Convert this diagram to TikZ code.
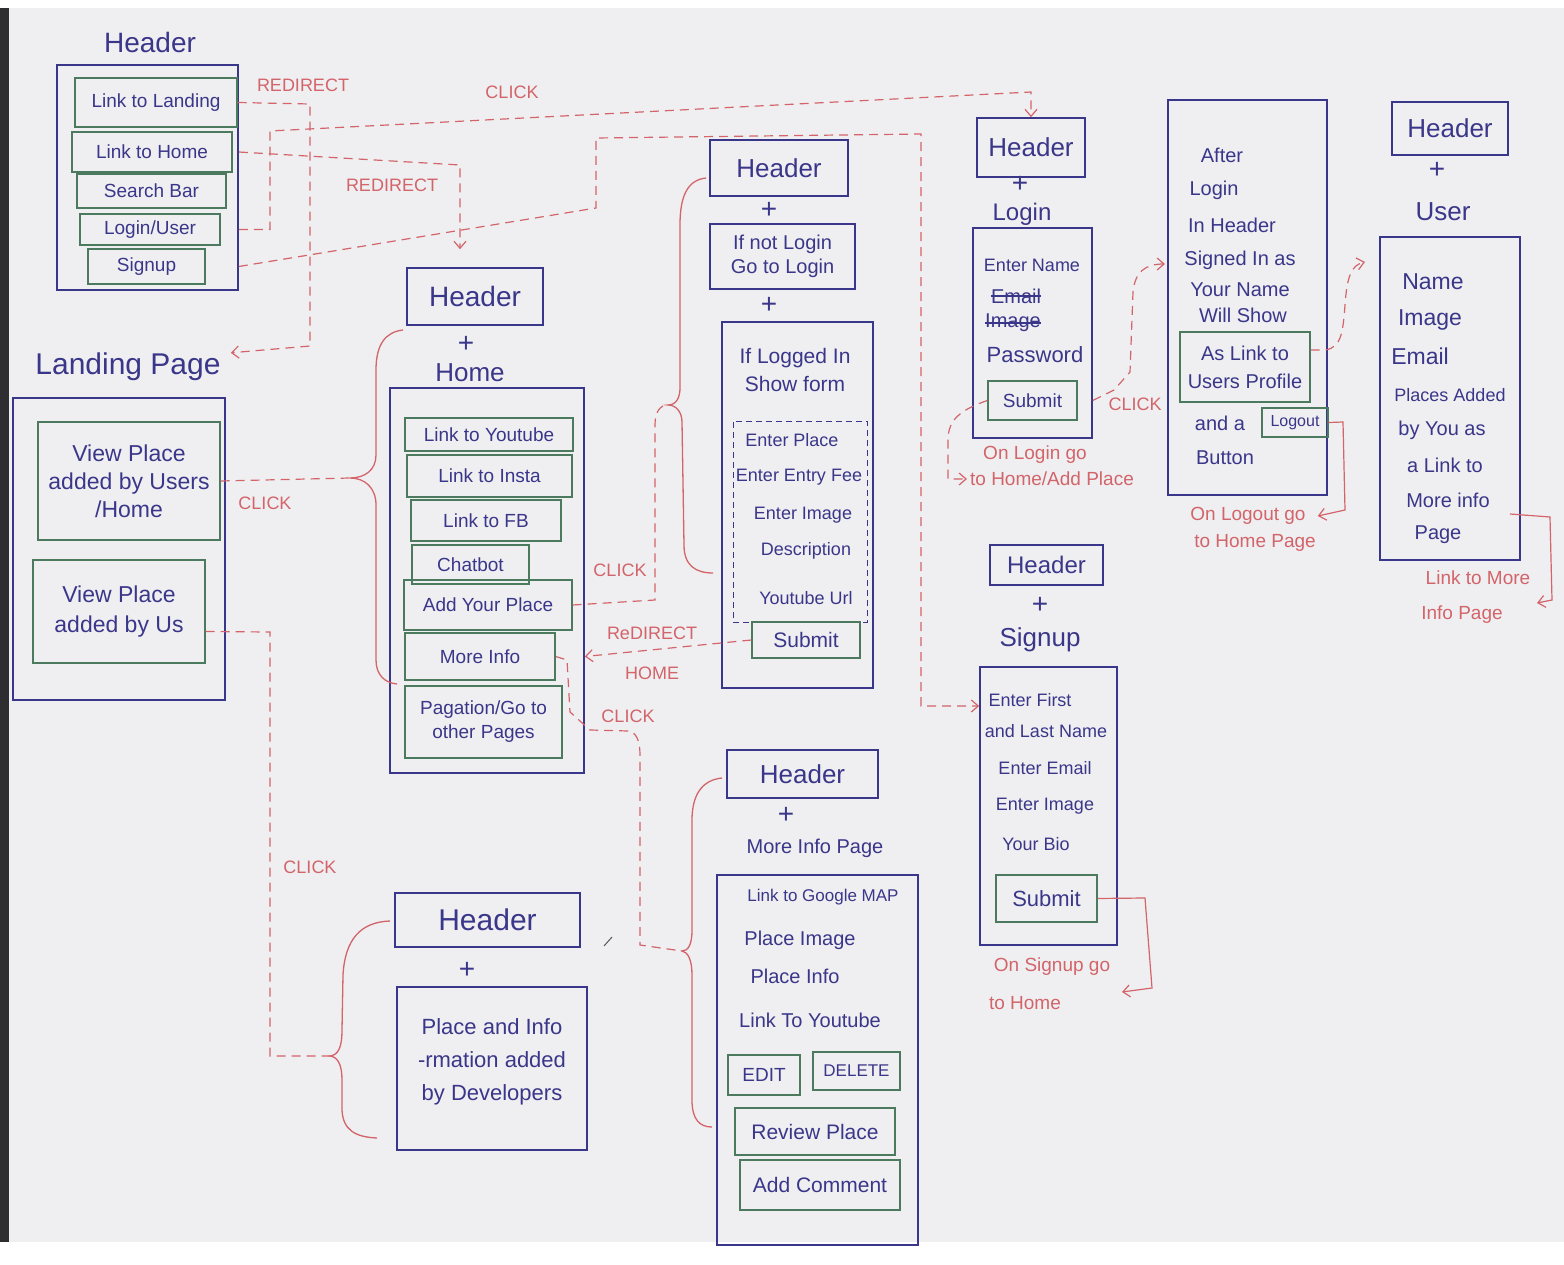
\documentclass[tikz,border=0pt]{standalone}
\usepackage{fontspec}
\setmainfont{Liberation Sans}
\usetikzlibrary{arrows.meta}
\definecolor{paper}{HTML}{EFEFF1}
\definecolor{inkblue}{HTML}{3A3689}
\definecolor{inkgreen}{HTML}{4B7A5E}
\definecolor{inkred}{HTML}{D2646A}
\definecolor{edgedark}{HTML}{2E2E30}
\begin{document}
\begin{tikzpicture}[x=1pt,y=-1pt,
  obox/.style={draw=inkblue,line width=1.6pt,inner sep=0pt},
  hbox/.style={draw=inkblue,line width=1.6pt,text=inkblue,font=\fontsize{26}{28}\selectfont,inner sep=0pt,align=center},
  gbox/.style={draw=inkgreen,line width=1.4pt,text=inkblue,font=\fontsize{19}{21}\selectfont,inner sep=0pt,align=center},
  btxt/.style={text=inkblue,font=\fontsize{20}{22}\selectfont,inner sep=0pt,align=center},
  ttl/.style={text=inkblue,font=\fontsize{26}{28}\selectfont,inner sep=0pt},
  plussign/.style={text=inkblue,font=\fontsize{28}{28}\selectfont,inner sep=0pt},
  rtxt/.style={text=inkred,font=\fontsize{19}{21}\selectfont,inner sep=0pt},
  rlbl/.style={text=inkred,font=\fontsize{18}{20}\selectfont,inner sep=0pt},
  rdash/.style={draw=inkred,line width=1.2pt,dash pattern=on 9pt off 6pt},
  rsolid/.style={draw=inkred,line width=1.2pt},
  bracecurve/.style={draw=inkred,line width=1.3pt},
  tipend/.style={-{Straight Barb[length=7pt,width=12pt]}},
  strike/.style={draw=inkblue,line width=1.2pt},
]
% paper
\fill[white] (0,0) rectangle (1564,1265);
\fill[paper] (9,8) rectangle (1564,1242);
\fill[edgedark] (0,8) rectangle (9,1242);
\useasboundingbox (0,0) rectangle (1564,1265);

% ---------- top-left header ----------
\node[ttl,font=\fontsize{28}{30}\selectfont] (hdrtitle) at (150,42) {Header};
\node[obox,minimum width=181,minimum height=225] (hdrbox) at (147.5,177.5) {};
\node[gbox,minimum width=162,minimum height=49] (lland) at (156,102.5) {Link to Landing};
\node[gbox,minimum width=160,minimum height=40] (lhome) at (152,152) {Link to Home};
\node[gbox,minimum width=149,minimum height=34] (lsearch) at (151.5,191) {Search Bar};
\node[gbox,minimum width=140,minimum height=31] (llogin) at (150,229.5) {Login/User};
\node[gbox,minimum width=117,minimum height=35] (lsignup) at (146.5,266.5) {Signup};

% ---------- landing page ----------
\node[ttl,font=\fontsize{30}{32}\selectfont] (landtitle) at (128,367) {Landing Page};
\node[obox,minimum width=212,minimum height=302] (landbox) at (119,549) {};
\node[gbox,minimum width=182,minimum height=118,font=\fontsize{23}{28}\selectfont] (vpusers) at (129,481) {View Place\\added by Users\\/Home};
\node[gbox,minimum width=172,minimum height=103,font=\fontsize{23}{30}\selectfont] (vpus) at (119,611.5) {View Place\\added by Us};

% ---------- header + home ----------
\node[hbox,minimum width=136,minimum height=57,font=\fontsize{28}{30}\selectfont] (homehdr) at (475,296.5) {Header};
\node[plussign] (hplus) at (466,344) {+};
\node[ttl] (hometitle) at (470,373) {Home};
\node[obox,minimum width=194,minimum height=385] (homebox) at (487,580.5) {};
\node[gbox,minimum width=168,minimum height=33] (hyt) at (489,434.5) {Link to Youtube};
\node[gbox,minimum width=165,minimum height=42] (hig) at (489.5,476) {Link to Insta};
\node[gbox,minimum width=150,minimum height=41] (hfb) at (486,520.5) {Link to FB};
\node[gbox,minimum width=117,minimum height=39] (hchat) at (470.5,564.5) {Chatbot};
\node[gbox,minimum width=168,minimum height=50] (hadd) at (488,605) {Add Your Place};
\node[gbox,minimum width=150,minimum height=47] (hmore) at (480,656.5) {More Info};
\node[gbox,minimum width=157,minimum height=72,font=\fontsize{19}{24}\selectfont] (hpag) at (483.5,722) {Pagation/Go to\\other Pages};

% ---------- add place ----------
\node[hbox,minimum width=138,minimum height=56] (aphdr) at (779,168) {Header};
\node[plussign] (applus1) at (769,210) {+};
\node[hbox,minimum width=145,minimum height=65,font=\fontsize{20}{24}\selectfont] (apif) at (782.5,256.5) {If not Login\\Go to Login};
\node[plussign] (applus2) at (769,305) {+};
\node[obox,minimum width=151,minimum height=366] (apbox) at (797.5,505) {};
\node[btxt,font=\fontsize{21}{28}\selectfont] (aplog) at (795,370) {If Logged In\\Show form};
\node[draw=inkblue,line width=1pt,dash pattern=on 6pt off 4pt,minimum width=134,minimum height=201,inner sep=0pt] (apform) at (800,521.5) {};
\node[btxt,font=\fontsize{18}{20}\selectfont] (apf1) at (792,440) {Enter Place};
\node[btxt,font=\fontsize{18}{20}\selectfont] (apf2) at (799,477) {Enter Entry Fee};
\node[btxt,font=\fontsize{18}{20}\selectfont] (apf3) at (803,515) {Enter Image};
\node[btxt,font=\fontsize{18}{20}\selectfont] (apf4) at (806,551) {Description};
\node[btxt,font=\fontsize{18}{20}\selectfont] (apf5) at (806,598) {Youtube Url};
\node[gbox,minimum width=108,minimum height=36,font=\fontsize{21}{23}\selectfont] (apsubmit) at (806,640) {Submit};

% ---------- login ----------
\node[hbox,minimum width=108,minimum height=59] (lghdr) at (1031,147.5) {Header};
\node[plussign] (lgplus) at (1020,184) {+};
\node[ttl,font=\fontsize{24}{26}\selectfont] (lgtitle) at (1022,214) {Login};
\node[obox,minimum width=119,minimum height=210] (lgbox) at (1032.5,333) {};
\node[btxt,font=\fontsize{18}{20}\selectfont] (lgname) at (1032,265) {Enter Name};
\node[btxt] (lgemail) at (1016,296) {Email};
\node[btxt] (lgimage) at (1013,323) {Image};
\draw[strike] (lgemail.west) -- (lgemail.east);
\draw[strike] (lgimage.west) -- (lgimage.east);
\node[btxt,font=\fontsize{22}{24}\selectfont] (lgpass) at (1035,355) {Password};
\node[gbox,minimum width=89,minimum height=39] (lgsubmit) at (1032.5,400.5) {Submit};
\node[rlbl] (lgclick) at (1135,404) {CLICK};
\node[rtxt] (lgnote1) at (1035,455) {On Login go};
\node[rtxt] (lgnote2) at (1052,479) {to Home/Add Place};

% ---------- after login ----------
\node[obox,minimum width=159,minimum height=395] (albox) at (1247.5,297.5) {};
\node[btxt] (al1) at (1222,155) {After};
\node[btxt] (al2) at (1214,190) {Login};
\node[btxt] (al3) at (1232,225) {In Header};
\node[btxt] (al4) at (1240,260) {Signed In as};
\node[btxt] (al5) at (1240,290) {Your Name};
\node[btxt] (al6) at (1243,315) {Will Show};
\node[gbox,minimum width=130,minimum height=70,font=\fontsize{20}{28}\selectfont] (allink) at (1245,367) {As Link to\\Users Profile};
\node[btxt] (aland) at (1220,423) {and a};
\node[gbox,minimum width=66,minimum height=29,font=\fontsize{16}{18}\selectfont] (allogout) at (1295,422.5) {Logout};
\node[btxt] (albutton) at (1225,458) {Button};
\node[rtxt] (alnote1) at (1248,516) {On Logout go};
\node[rtxt] (alnote2) at (1255,543) {to Home Page};

% ---------- user ----------
\node[hbox,minimum width=116,minimum height=53] (ushdr) at (1450,128.5) {Header};
\node[plussign] (usplus) at (1437,170) {+};
\node[ttl] (ustitle) at (1443,212) {User};
\node[obox,minimum width=140,minimum height=323] (usbox) at (1450,398.5) {};
\node[btxt,font=\fontsize{23}{25}\selectfont] (us1) at (1433,282) {Name};
\node[btxt,font=\fontsize{23}{25}\selectfont] (us2) at (1430,320) {Image};
\node[btxt,font=\fontsize{23}{25}\selectfont] (us3) at (1420,356) {Email};
\node[btxt,font=\fontsize{18}{20}\selectfont] (us4) at (1450,395) {Places Added};
\node[btxt] (us5) at (1442,430) {by You as};
\node[btxt] (us6) at (1445,465) {a Link to};
\node[btxt] (usmore) at (1448,500) {More info};
\node[btxt] (us8) at (1438,535) {Page};
\node[rtxt] (usnote1) at (1478,578) {Link to More};
\node[rtxt] (usnote2) at (1462,615) {Info Page};
\coordinate (usarr) at (1537,603);

% ---------- signup ----------
\node[hbox,minimum width=113,minimum height=40,font=\fontsize{24}{26}\selectfont] (sghdr) at (1046.5,565) {Header};
\node[plussign] (sgplus) at (1040,605) {+};
\node[ttl] (sgtitle) at (1040,640) {Signup};
\node[obox,minimum width=137,minimum height=278] (sgbox) at (1048.5,806) {};
\node[btxt,font=\fontsize{18}{20}\selectfont] (sg1) at (1030,700) {Enter First};
\node[btxt,font=\fontsize{18}{20}\selectfont] (sg2) at (1046,731) {and Last Name};
\node[btxt,font=\fontsize{18}{20}\selectfont] (sg3) at (1045,768) {Enter Email};
\node[btxt,font=\fontsize{18}{20}\selectfont] (sg4) at (1045,806) {Enter Image};
\node[btxt,font=\fontsize{18}{20}\selectfont] (sg5) at (1036,844) {Your Bio};
\node[gbox,minimum width=101,minimum height=47,font=\fontsize{22}{24}\selectfont] (sgsubmit) at (1046.5,898.5) {Submit};
\node[rtxt] (sgnote1) at (1052,967) {On Signup go};
\node[rtxt] (sgnote2) at (1025,1003) {to Home};
\coordinate (sgarr) at (1122,992);

% ---------- more info ----------
\node[hbox,minimum width=151,minimum height=48] (mihdr) at (802.5,774) {Header};
\node[plussign] (miplus) at (786,815) {+};
\node[ttl,font=\fontsize{20}{22}\selectfont] (mititle) at (815,848) {More Info Page};
\node[obox,minimum width=201,minimum height=370] (mibox) at (817.5,1060) {};
\node[btxt,font=\fontsize{17}{19}\selectfont] (mi1) at (823,897) {Link to Google MAP};
\node[btxt] (mi2) at (800,940) {Place Image};
\node[btxt] (mi3) at (795,976) {Place Info};
\node[btxt] (mi4) at (810,1020) {Link To Youtube};
\node[gbox,minimum width=72,minimum height=40] (miedit) at (764,1075) {EDIT};
\node[gbox,minimum width=87,minimum height=38,font=\fontsize{17}{19}\selectfont] (midel) at (856.5,1071) {DELETE};
\node[gbox,minimum width=160,minimum height=47,font=\fontsize{21}{23}\selectfont] (mirev) at (815,1131.5) {Review Place};
\node[gbox,minimum width=160,minimum height=50,font=\fontsize{21}{23}\selectfont] (micom) at (820,1185) {Add Comment};

% ---------- developers ----------
\node[hbox,minimum width=185,minimum height=54,font=\fontsize{30}{32}\selectfont] (dvhdr) at (487.5,920) {Header};
\node[plussign] (dvplus) at (467,970) {+};
\node[obox,minimum width=190,minimum height=163] (dvbox) at (492,1068.5) {};
\node[btxt,font=\fontsize{22}{33}\selectfont] (dvtext) at (492,1062) {Place and Info\\-rmation added\\by Developers};
\draw[draw=edgedark!80,line width=1pt] (604,946) -- (612,937);

% ---------- braces ----------
\coordinate (hbr) at (350,478);
\draw[bracecurve] (403,330) .. controls (385,332) and (376,345) .. (376,370) -- (376,455) .. controls (376,470) and (365,478) .. (hbr) .. controls (365,478) and (376,488) .. (376,505) -- (376,660) .. controls (376,675) and (385,683) .. (397,684);
\coordinate (apbr) at (668,405);
\draw[bracecurve] (706,178) .. controls (688,180) and (680,195) .. (680,225) -- (680,388) .. controls (680,398) and (676,405) .. (apbr) .. controls (676,405) and (682,412) .. (682,422) -- (684,545) .. controls (684,565) and (695,573) .. (713,573);
\coordinate (mibr) at (682,951);
\draw[bracecurve] (722,778) .. controls (702,780) and (692,795) .. (692,820) -- (692,930) .. controls (692,945) and (688,951) .. (mibr) .. controls (688,952) and (692,960) .. (692,975) -- (692,1100) .. controls (692,1120) and (700,1127) .. (712,1127);
\coordinate (dbr) at (330,1056);
\draw[bracecurve] (390,921) .. controls (360,922) and (345,940) .. (343,975) -- (342,1030) .. controls (342,1048) and (338,1055) .. (dbr) .. controls (338,1057) and (342,1065) .. (342,1080) -- (342,1110) .. controls (343,1130) and (355,1137) .. (377,1138);

% ---------- connectors ----------
\node[rlbl] (lbl1) at (303,85) {REDIRECT};
\draw[rdash,tipend] (lland.east) -- (310,104) -- (310,346) -- ([xshift=10pt]landtitle.north east);

\node[rlbl] (lbl2) at (392,185) {REDIRECT};
\draw[rdash,tipend] (hdrbox.east |- lhome.east) -- (460,165) -- ([xshift=-15pt,yshift=18pt]homehdr.north);

\node[rlbl] (lbl3) at (512,92) {CLICK};
\draw[rdash,tipend] (hdrbox.east |- llogin.east) -- (270,229.5) -- (270,131) -- (1031,92) -- (lghdr.north);

\coordinate (c4) at (921,706);
\draw[rdash,tipend] (hdrbox.east |- lsignup.east) -- (596,208) -- (596,138) -- (921,134) -- (c4) -- (c4 -| sgbox.west);

\node[rlbl] (lbl5) at (265,503) {CLICK};
\draw[rdash] (vpusers.east) -- (hbr);

\node[rlbl] (lbl6) at (310,867) {CLICK};
\draw[rdash] ([yshift=-20pt]vpus.east) -- (270,632) -- (270,1056) -- (dbr);

\node[rlbl] (lbl7) at (620,570) {CLICK};
\draw[rdash] (hadd.east) -- (655,600) -- (655,425) .. controls (655,412) and (660,405) .. (apbr);

\node[rlbl] (lbl8a) at (652,633) {ReDIRECT};
\node[rlbl] (lbl8b) at (652,673) {HOME};
\draw[rdash,tipend] (apsubmit.west) -- (homebox.east |- hmore.east);

\node[rlbl] (lbl9) at (628,716) {CLICK};
\draw[rdash] (hmore.east) -- (567,660) -- (570,712) -- (590,730) -- (628,731) .. controls (636,732) and (640,740) .. (640,755) -- (640,945) -- (mibr);

\draw[rdash,tipend,shorten >=3pt] (lgsubmit.west) .. controls (960,410) and (948,420) .. (948,440) -- (948,479) -- (lgnote2.west);

\coordinate (c11) at (1165,264);
\draw[rdash,tipend] (lgbox.east |- lgsubmit.east) -- (1114,390) -- (1130,372) -- (1133,292) .. controls (1135,272) and (1145,264) .. (c11);

\coordinate (c12) at (1365,262);
\draw[rdash,tipend] ([yshift=17pt]allink.east) -- (1325,350) .. controls (1342,348) and (1343,330) .. (1345,305) .. controls (1347,275) and (1352,265) .. (c12);

\draw[rsolid,tipend] (allogout.east) -- (1343,422) -- (1345,510) -- ([xshift=12pt]alnote1.east);

\draw[rsolid,tipend] ([xshift=20pt,yshift=-14pt]usmore.east) -- (1550,517) -- (1552,600) -- (usarr);

\draw[rsolid,tipend] (sgsubmit.east) -- (1145,898) -- (1152,988) -- (sgarr);

\end{tikzpicture}
\end{document}
